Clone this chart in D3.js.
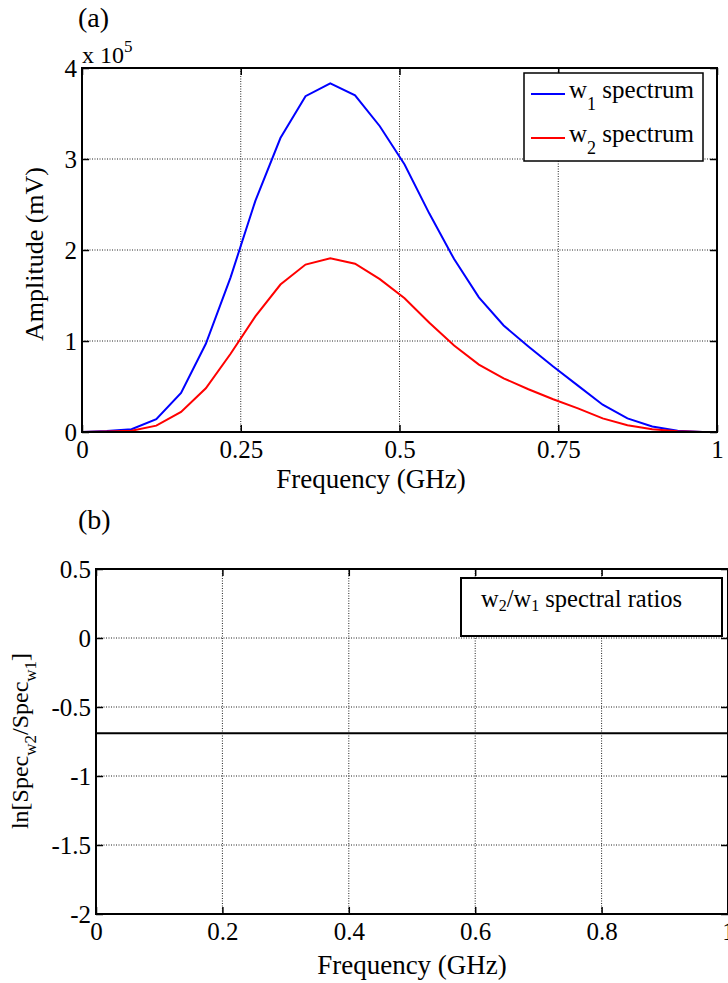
<!DOCTYPE html>
<html>
<head>
<meta charset="utf-8">
<script src="https://cdn.jsdelivr.net/npm/d3@7"></script>
<style>
body { margin: 0; background: #fff; }
svg { display: block; }
text { font-family: "Liberation Serif", "Times New Roman", serif; fill: #000; }
</style>
</head>
<body>
<script>
// spectra (amplitude in units of 1e5 mV)
var freq = [0, 0.039, 0.078, 0.117, 0.156, 0.195, 0.234, 0.273, 0.3125, 0.352, 0.391, 0.430, 0.469,
	0.508, 0.547, 0.586, 0.625, 0.664, 0.703, 0.742, 0.781, 0.820, 0.859, 0.898, 0.938, 0.977, 1.0];
var w1Spec = [0, 0.01, 0.03, 0.14, 0.43, 0.97, 1.70, 2.54, 3.23, 3.69, 3.83, 3.70, 3.36,
	2.94, 2.40, 1.90, 1.48, 1.17, 0.94, 0.72, 0.51, 0.30, 0.15, 0.06, 0.015, 0, 0];
var w2Spec = [0, 0.005, 0.015, 0.07, 0.22, 0.48, 0.86, 1.27, 1.62, 1.84, 1.91, 1.85, 1.68,
	1.47, 1.20, 0.95, 0.74, 0.59, 0.47, 0.36, 0.26, 0.15, 0.075, 0.03, 0.008, 0, 0];

// spectral ratio, flat line
var ratioFreq = [0, 1];
var ratioVals = [-0.69, -0.69];

var topXTicks = [0, 0.25, 0.5, 0.75, 1];
var topXLabels = ["0", "0.25", "0.5", "0.75", "1"];
var topYTicks = [0, 1, 2, 3, 4];
var botXTicks = [0, 0.2, 0.4, 0.6, 0.8, 1];
var botYTicks = [-2, -1.5, -1, -0.5, 0, 0.5];

var W = 728, H = 983;
var svg = d3.select("body").append("svg")
	.attr("width", W)
	.attr("height", H);

function drawPanel(opt){
	var g = svg.append("g");
	var x = opt.x, y = opt.y;
	var x0 = x.range()[0], x1 = x.range()[1];
	var y0 = y.range()[0], y1 = y.range()[1];

	// dotted grid
	g.selectAll(".gx").data(opt.xTicks).enter().append("line")
		.attr("x1", function(d){ return x(d); })
		.attr("x2", function(d){ return x(d); })
		.attr("y1", y0).attr("y2", y1)
		.attr("stroke", "#222").attr("stroke-width", 1)
		.attr("stroke-dasharray", "1,1.5");
	g.selectAll(".gy").data(opt.yTicks).enter().append("line")
		.attr("y1", function(d){ return y(d); })
		.attr("y2", function(d){ return y(d); })
		.attr("x1", x0).attr("x2", x1)
		.attr("stroke", "#222").attr("stroke-width", 1)
		.attr("stroke-dasharray", "1,1.5");

	var clipId = "clip" + opt.id;
	svg.append("clipPath").attr("id", clipId)
		.append("rect").attr("x", x0).attr("y", y1).attr("width", x1 - x0).attr("height", y0 - y1);

	var line = d3.line()
		.x(function(d){ return x(d[0]); })
		.y(function(d){ return y(d[1]); });

	opt.series.forEach(function(s){
		g.append("path")
			.datum(d3.zip(s.xs, s.ys))
			.attr("clip-path", "url(#" + clipId + ")")
			.attr("fill", "none")
			.attr("stroke", s.color)
			.attr("stroke-width", 2)
			.attr("d", line);
	});

	// axes with inward ticks
	g.append("g").attr("transform", "translate(0," + y0 + ")")
		.call(d3.axisBottom(x).tickValues(opt.xTicks).tickSize(-7).tickPadding(8).tickFormat(opt.xFormat))
		.call(styleAxis);
	g.append("g").attr("transform", "translate(0," + y1 + ")")
		.call(d3.axisTop(x).tickValues(opt.xTicks).tickSize(-7).tickFormat(""))
		.call(styleAxis);
	g.append("g").attr("transform", "translate(" + x0 + ",0)")
		.call(d3.axisLeft(y).tickValues(opt.yTicks).tickSize(-7).tickPadding(5).tickFormat(opt.yFormat))
		.call(styleAxis);
	g.append("g").attr("transform", "translate(" + x1 + ",0)")
		.call(d3.axisRight(y).tickValues(opt.yTicks).tickSize(-7).tickFormat(""))
		.call(styleAxis);

	g.append("rect")
		.attr("x", x0).attr("y", y1)
		.attr("width", x1 - x0).attr("height", y0 - y1)
		.attr("fill", "none").attr("stroke", "#000").attr("stroke-width", 2);
	return g;
}

function styleAxis(sel){
	sel.attr("font-family", null).attr("font-size", null);
	sel.select(".domain").remove();
	sel.selectAll(".tick line").attr("stroke", "#000").attr("stroke-width", 1.5);
	sel.selectAll(".tick text")
		.style("font-family", "'Liberation Serif', serif")
		.style("font-size", "25px")
		.attr("fill", "#000");
}

// panel (a)
var xA = d3.scaleLinear().domain([0, 1]).range([82, 717]);
var yA = d3.scaleLinear().domain([0, 4]).range([432, 68]);
drawPanel({
	id: "a", x: xA, y: yA,
	xTicks: topXTicks, yTicks: topYTicks,
	xFormat: function(d, i){ return topXLabels[i]; },
	yFormat: function(d){ return String(d); },
	series: [
		{xs: freq, ys: w1Spec, color: "#0000ff"},
		{xs: freq, ys: w2Spec, color: "#ff0000"}
	]
});

// panel (b)
var xB = d3.scaleLinear().domain([0, 1]).range([96, 728]);
var yB = d3.scaleLinear().domain([-2, 0.5]).range([914, 569]);
drawPanel({
	id: "b", x: xB, y: yB,
	xTicks: botXTicks, yTicks: botYTicks,
	xFormat: function(d){ return String(d); },
	yFormat: function(d){ return String(d); },
	series: [
		{xs: ratioFreq, ys: ratioVals, color: "#000"}
	]
});

// labels
svg.append("text").attr("x", 78).attr("y", 27).style("font-size", "28px").text("(a)");
svg.append("text").attr("x", 78).attr("y", 529).style("font-size", "28px").text("(b)");

var mult = svg.append("text").attr("x", 82).attr("y", 63).style("font-size", "24px");
mult.append("tspan").text("x 10");
mult.append("tspan").attr("dy", -11).style("font-size", "17px").text("5");

svg.append("text").attr("x", 371).attr("y", 488)
	.attr("text-anchor", "middle").style("font-size", "27px").text("Frequency (GHz)");
svg.append("text").attr("x", 412).attr("y", 974)
	.attr("text-anchor", "middle").style("font-size", "27px").text("Frequency (GHz)");

svg.append("text").attr("transform", "translate(43,254) rotate(-90)")
	.attr("text-anchor", "middle").style("font-size", "26px").text("Amplitude (mV)");

var ylb = svg.append("text").attr("transform", "translate(28,741) rotate(-90)")
	.attr("text-anchor", "middle").style("font-size", "24px");
ylb.append("tspan").text("ln[Spec");
ylb.append("tspan").attr("dy", 8).style("font-size", "17px").text("w2");
ylb.append("tspan").attr("dy", -8).text("/Spec");
ylb.append("tspan").attr("dy", 8).style("font-size", "17px").text("w1");
ylb.append("tspan").attr("dy", -8).text("]");

// legend (a)
var legA = svg.append("g");
legA.append("rect").attr("x", 524).attr("y", 73).attr("width", 179).attr("height", 88)
	.attr("fill", "#fff").attr("stroke", "#000").attr("stroke-width", 1.5);
var legItems = [
	{sub: "1", color: "#0000ff", y: 94},
	{sub: "2", color: "#ff0000", y: 138}
];
legItems.forEach(function(d){
	legA.append("line").attr("x1", 531).attr("x2", 565).attr("y1", d.y).attr("y2", d.y)
		.attr("stroke", d.color).attr("stroke-width", 2);
	var t = legA.append("text").attr("x", 569).attr("y", d.y + 4).style("font-size", "25px");
	t.append("tspan").text("w");
	t.append("tspan").attr("dy", 12).style("font-size", "18px").text(d.sub);
	t.append("tspan").attr("dy", -12).text(" spectrum");
});

// legend (b)
var legB = svg.append("g");
legB.append("rect").attr("x", 461).attr("y", 578).attr("width", 261).attr("height", 58)
	.attr("fill", "#fff").attr("stroke", "#000").attr("stroke-width", 2);
var tb = legB.append("text").attr("x", 481).attr("y", 607).style("font-size", "24.5px");
tb.append("tspan").text("w");
tb.append("tspan").attr("dy", 4).style("font-size", "16px").text("2");
tb.append("tspan").attr("dy", -4).text("/w");
tb.append("tspan").attr("dy", 4).style("font-size", "16px").text("1");
tb.append("tspan").attr("dy", -4).text(" spectral ratios");
</script>
</body>
</html>
